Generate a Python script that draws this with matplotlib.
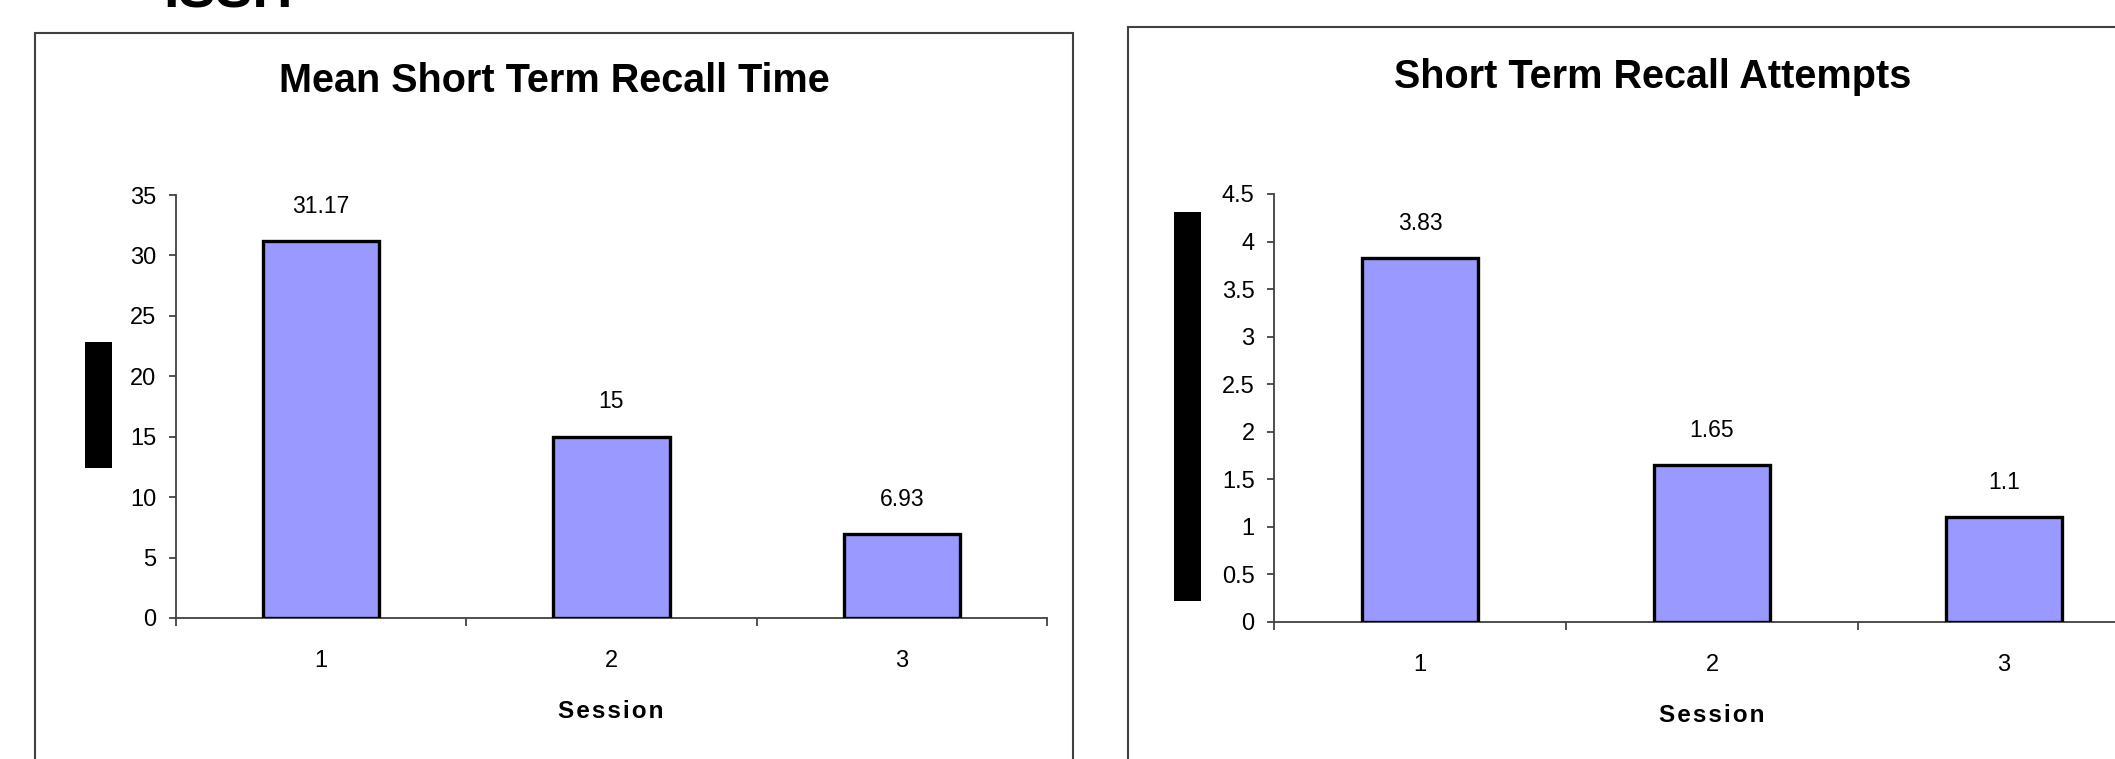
import matplotlib
matplotlib.use("Agg")
from matplotlib import pyplot as plt
from matplotlib.patches import Rectangle
import numpy as np

plt.rcParams['font.family'] = ['Liberation Sans', 'DejaVu Sans']

sessions = [1, 2, 3]
session_labels = ["1", "2", "3"]
recall_time = [31.17, 15, 6.93]
recall_time_labels = ["31.17", "15", "6.93"]
recall_attempts = [3.83, 1.65, 1.1]
recall_attempts_labels = ["3.83", "1.65", "1.1"]
time_ticks = np.arange(0, 35.1, 5)
attempt_ticks = np.arange(0, 4.51, 0.5)

W, H = 2115, 759
fig = plt.figure(figsize=(W / 100, H / 100), dpi=100)


def px_box(x0, y0, x1, y1):
    # pixel box measured from the top-left -> figure fraction rect
    return [x0 / W, 1 - y1 / H, (x1 - x0) / W, (y1 - y0) / H]


def spaced(s):
    # loose letter spacing for the axis titles
    return "\u200a".join(s)


def bar_panel(rect, values, labels, yticks):
    ax = fig.add_axes(rect)
    ax.bar(sessions, values, width=0.4, color="#9999ff", edgecolor="black",
           linewidth=2.4, zorder=3)
    for x, v, t in zip(sessions, values, labels):
        ax.annotate(t, (x, v), xytext=(0, 25), textcoords="offset points",
                    ha="center", va="center", fontsize=16.5)
    ax.set_xlim(0.5, 3.5)
    ax.set_ylim(yticks[0], yticks[-1])
    ax.set_yticks(yticks)
    ax.set_yticklabels([f"{t:g}" for t in yticks], fontsize=17)
    ax.set_xticks(sessions)
    ax.set_xticklabels(session_labels, fontsize=17)
    ax.set_xticks([0.5, 1.5, 2.5, 3.5], minor=True)
    ax.tick_params(axis="x", which="major", length=0, pad=23)
    ax.tick_params(axis="x", which="minor", length=6, width=1.2, color="#333333")
    ax.tick_params(axis="y", length=5, width=1.2, color="#333333", pad=9)
    for s in ("top", "right"):
        ax.spines[s].set_visible(False)
    for s in ("left", "bottom"):
        ax.spines[s].set_color("#404040")
        ax.spines[s].set_linewidth(1.3)
    ax.patch.set_alpha(0)
    return ax


# outer chart frames
for x0, y0, x1, y1 in [(35, 33, 1073, 800), (1128, 27, 2300, 800)]:
    fig.patches.append(Rectangle((x0 / W, 1 - y1 / H), (x1 - x0) / W, (y1 - y0) / H,
                                 transform=fig.transFigure, fill=False,
                                 edgecolor="#404040", linewidth=1.5))

bar_panel(px_box(176, 195, 1047, 618), recall_time, recall_time_labels, time_ticks)
bar_panel(px_box(1274, 194, 2150, 622), recall_attempts, recall_attempts_labels, attempt_ticks)

fig.text(554 / W, 1 - 81 / H, "Mean Short Term Recall Time", ha="center", va="center",
         fontsize=28.5, fontweight="bold")
fig.text(1653 / W, 1 - 77 / H, "Short Term Recall Attempts", ha="center", va="center",
         fontsize=28.5, fontweight="bold")
fig.text(611 / W, 1 - 711 / H, spaced("Session"), ha="center", va="center",
         fontsize=17.5, fontweight="bold")
fig.text(1712 / W, 1 - 716 / H, spaced("Session"), ha="center", va="center",
         fontsize=17.5, fontweight="bold")

# heading running off the top edge
fig.text(163 / W, 1 - 8 / H, "ISSH", ha="left", va="baseline",
         fontsize=40, fontweight="bold")

# black bars over the y-axis titles
for x0, y0, x1, y1 in [(85, 342, 112, 468), (1174, 212, 1201, 601)]:
    fig.patches.append(Rectangle((x0 / W, 1 - y1 / H), (x1 - x0) / W, (y1 - y0) / H,
                                 transform=fig.transFigure, facecolor="black",
                                 edgecolor="none"))

fig.savefig("out.png", dpi=100)
